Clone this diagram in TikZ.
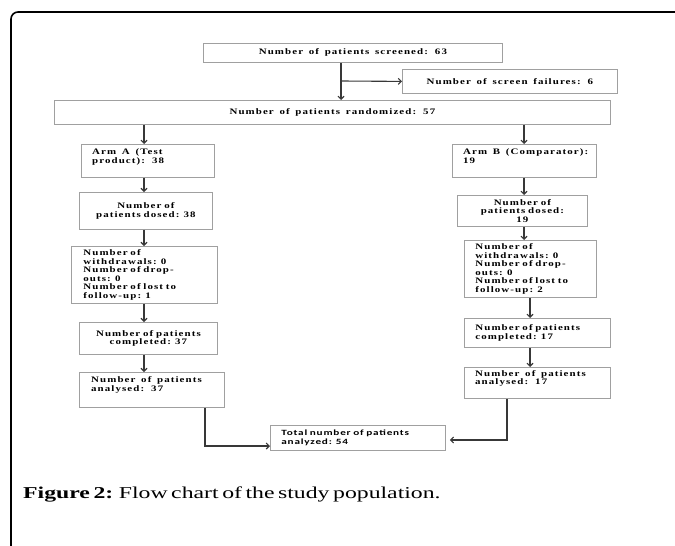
\documentclass[tikz,border=0pt]{standalone}
\usepackage{fontspec}
\setmainfont{Liberation Serif}
\newfontfamily\boxfont[FakeStretch=1.3,LetterSpace=13,WordSpace=1.5]{Liberation Serif}
\newfontfamily\totfont[FakeStretch=1.4,LetterSpace=10,WordSpace=1.3]{Carlito}
\newfontfamily\capfont[FakeStretch=1.43,WordSpace=0.6]{Liberation Serif}
\usetikzlibrary{arrows.meta}

\definecolor{boxgray}{HTML}{A0A0A0}
\definecolor{arrgray}{HTML}{383838}

\begin{document}
\begin{tikzpicture}[x=1pt, y=-1pt,
    box/.style={draw=boxgray, line width=0.8pt, inner sep=0pt, anchor=north west,
        font=\boxfont\bfseries\fontsize{8.4}{8.6}\selectfont},
    lbl/.style={inner sep=0pt, anchor=north west, align=left,
        font=\boxfont\bfseries\fontsize{8.4}{8.6}\selectfont},
    arr/.style={draw=arrgray, line width=1.1pt, -{Straight Barb[length=3pt,width=6pt]}}]

    \useasboundingbox (0,0) rectangle (675,546);

    % frame
    \draw[line width=1.6pt, rounded corners=7pt] (11,546) -- (11,12) -- (675,12);

    % screening
    \node[box, minimum width=299, minimum height=19, align=center] (scr) at (203,43)
        {Number of patients screened: 63};
    \node[box, minimum width=215, minimum height=24, align=center] (fail) at (402,69)
        {Number of screen failures: 6};
    \node[box, minimum width=556, minimum height=24, align=center] (rand) at (54,100)
        {Number of patients randomized: 57};

    % arm A
    \node[box, minimum width=133, minimum height=33] (armA) at (81,144) {};
    \node[lbl] (armAtxt) at ([shift={(11pt,-4.5pt)}]armA.north west) {Arm A (Test\\product): 38};
    \node[box, minimum width=133, minimum height=37, text width=121, inner xsep=6pt, align=center] (dosA) at (79,192)
        {Number of\\patients dosed: 38};
    \node[box, minimum width=146, minimum height=57, text width=122, inner xsep=12pt, align=left] (wdA) at (71,246)
        {Number of\\withdrawals: 0\\Number of drop-\\outs: 0\\Number of lost to\\follow-up: 1};
    \node[box, minimum width=138, minimum height=32, text width=126, inner xsep=6pt, align=center] (compA) at (79,322)
        {Number of patients\\completed: 37};
    \node[box, minimum width=145, minimum height=35] (anaA) at (79,372) {};
    \node[lbl] (anaAtxt) at ([shift={(12pt,-4.5pt)}]anaA.north west) {Number of patients\\analysed: 37};

    % arm B
    \node[box, minimum width=144, minimum height=33] (armB) at (452,144) {};
    \node[lbl] (armBtxt) at ([shift={(11pt,-4.5pt)}]armB.north west) {Arm B (Comparator):\\19};
    \node[box, minimum width=130, minimum height=31, text width=118, inner xsep=6pt, align=center] (dosB) at (457,195)
        {Number of\\patients dosed:\\19};
    \node[box, minimum width=132, minimum height=57, text width=110, inner xsep=11pt, align=left] (wdB) at (464,240)
        {Number of\\withdrawals: 0\\Number of drop-\\outs: 0\\Number of lost to\\follow-up: 2};
    \node[box, minimum width=146, minimum height=29, text width=124, inner xsep=11pt, align=left] (compB) at (464,318)
        {Number of patients\\completed: 17};
    \node[box, minimum width=146, minimum height=31] (anaB) at (464,367) {};
    \node[lbl] (anaBtxt) at ([shift={(11pt,-3pt)}]anaB.north west) {Number of patients\\analysed: 17};

    % total
    \node[box, minimum width=175, minimum height=25, text width=153, inner xsep=11pt, align=left,
        font=\totfont\bfseries\fontsize{8}{9}\selectfont] (total) at (270,425)
        {Total number of patients\\analyzed: 54};

    % connectors
    \coordinate (split) at (341,81);
    \coordinate (colA) at (144,0);
    \coordinate (colB) at (524,0);
    \coordinate (colC) at (530,0);
    \coordinate (joinA) at (205,446);
    \coordinate (joinB) at (507,440);

    \draw[arr] (scr.south -| split) -- (rand.north -| split);
    \draw[arr] (split) -- (fail.west);

    \draw[arr] (rand.south -| colA) -- (armA.north -| colA);
    \draw[arr] (armA.south -| colA) -- (dosA.north -| colA);
    \draw[arr] (dosA.south -| colA) -- (wdA.north -| colA);
    \draw[arr] (wdA.south -| colA) -- (compA.north -| colA);
    \draw[arr] (compA.south -| colA) -- (anaA.north -| colA);

    \draw[arr] (rand.south -| colB) -- (armB.north -| colB);
    \draw[arr] (armB.south -| colB) -- (dosB.north -| colB);
    \draw[arr] (dosB.south -| colB) -- (wdB.north -| colB);
    \draw[arr] (wdB.south -| colC) -- (compB.north -| colC);
    \draw[arr] (compB.south -| colC) -- (anaB.north -| colC);

    \draw[arr] (anaA.south -| joinA) |- (total.west |- joinA);
    \draw[arr, shorten >=4pt] (anaB.south -| joinB) |- (total.east |- joinB);

    % caption
    \node[anchor=base west, inner sep=0pt, font=\capfont\fontsize{16.6}{20}\selectfont] (cap) at (23,498)
        {\textbf{Figure 2:} Flow chart of the study population.};

\end{tikzpicture}
\end{document}
